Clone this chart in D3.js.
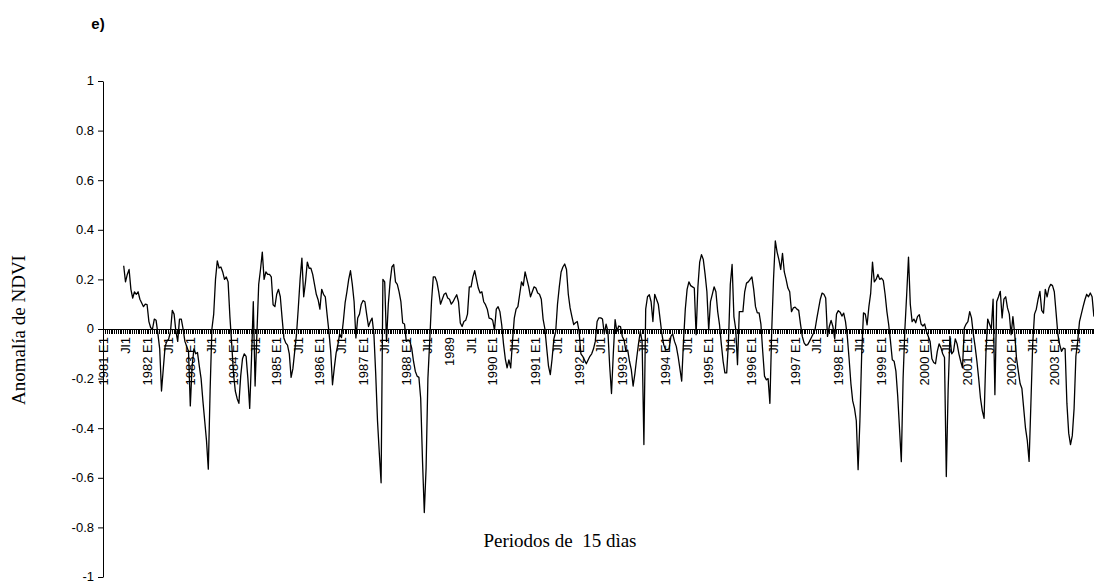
<!DOCTYPE html>
<html>
<head>
<meta charset="utf-8">
<script src="https://cdn.jsdelivr.net/npm/d3@7"></script>
<style>
  html, body { margin: 0; padding: 0; background: #fff; }
  svg { display: block; }
</style>
</head>
<body>
<svg id="chart" width="1094" height="583"></svg>
<script>
// ---------------- DATA ----------------
const years = d3.range(1981, 2004);
const periods = ["E1","E2","F1","F2","M1","M2","A1","A2","My1","My2","Jn1","Jn2",
                 "Jl1","Jl2","Ag1","Ag2","S1","S2","O1","O2","N1","N2","D1","D2"];
// categories: one per 15-day period, 1981 E1 ... 2003 D2
const categories = [];
years.forEach(yr => periods.forEach(p => categories.push(yr + " " + p)));

// NDVI anomaly per 15-day period (null = no data)
const anomalia = [
  // 1981
  null,null,null,null,null,null,null,null,null,null,null,
  0.255,0.19,0.22,0.24,0.16,0.125,0.15,0.14,0.15,0.12,0.105,0.09,0.10,
  // 1982
  0.098,0.03,0.005,0.0,0.04,0.035,-0.02,-0.08,-0.25,-0.16,-0.07,-0.05,
  -0.04,-0.01,0.075,0.06,-0.01,-0.05,0.04,0.04,0.0,-0.05,-0.07,-0.09,
  // 1983
  -0.31,-0.15,-0.08,-0.1,-0.095,-0.15,-0.2,-0.29,-0.37,-0.45,-0.565,-0.25,
  0.0,0.06,0.2,0.275,0.246,0.25,0.23,0.2,0.21,0.19,0.05,-0.06,
  // 1984
  -0.18,-0.25,-0.28,-0.3,-0.19,-0.12,-0.1,-0.11,-0.2,-0.32,-0.12,0.11,
  -0.23,-0.02,0.18,0.24,0.31,0.2,0.23,0.22,0.22,0.21,0.098,0.09,
  // 1985
  0.14,0.16,0.13,0.044,-0.036,-0.056,-0.065,-0.1,-0.195,-0.16,-0.09,-0.02,
  0.085,0.2,0.286,0.13,0.19,0.27,0.245,0.245,0.22,0.18,0.14,0.118,
  // 1986
  0.08,0.16,0.14,0.13,0.058,-0.01,-0.09,-0.225,-0.157,-0.097,-0.063,-0.02,
  -0.035,0.03,0.105,0.15,0.2,0.235,0.18,0.11,-0.036,0.044,0.06,0.1,
  // 1987
  0.115,0.11,0.058,0.01,0.03,0.044,-0.02,-0.18,-0.37,-0.5,-0.62,0.2,
  0.19,-0.05,0.1,0.19,0.25,0.26,0.19,0.18,0.15,0.11,0.024,0.02,
  // 1988
  -0.05,-0.045,-0.05,-0.077,-0.13,-0.17,-0.19,-0.195,-0.28,-0.53,-0.74,-0.56,
  -0.2,-0.05,0.11,0.21,0.21,0.19,0.15,0.1,0.12,0.14,0.145,0.125,
  // 1989
  0.12,0.1,0.11,0.125,0.138,0.11,0.024,0.01,0.03,0.035,0.06,0.17,
  0.17,0.21,0.235,0.2,0.165,0.145,0.15,0.11,0.098,0.08,0.044,0.042,
  // 1990
  0.035,-0.005,0.08,0.09,0.07,0.017,-0.06,-0.12,-0.157,-0.125,-0.157,-0.05,
  0.044,0.08,0.09,0.14,0.19,0.175,0.23,0.2,0.17,0.13,0.15,0.17,
  // 1991
  0.165,0.145,0.14,0.12,0.04,0.0,-0.077,-0.15,-0.184,-0.12,-0.04,-0.01,
  0.1,0.17,0.23,0.25,0.262,0.24,0.14,0.085,0.05,0.018,0.025,0.03,
  // 1992
  -0.01,-0.1,-0.11,-0.125,-0.14,-0.125,-0.11,-0.1,-0.08,-0.05,0.03,0.045,
  0.045,0.04,-0.02,0.02,-0.01,-0.15,-0.26,-0.1,0.038,-0.01,0.012,0.01,
  // 1993
  -0.03,-0.045,-0.09,-0.085,-0.13,-0.164,-0.23,-0.18,-0.117,-0.06,-0.01,-0.05,
  -0.466,0.08,0.13,0.138,0.11,0.03,0.14,0.12,0.1,0.04,-0.02,-0.063,
  // 1994
  -0.083,-0.083,-0.08,-0.03,-0.02,-0.05,-0.07,-0.11,-0.16,-0.21,-0.05,0.08,
  0.16,0.19,0.175,0.17,0.165,-0.023,0.17,0.27,0.3,0.28,0.22,0.15,
  // 1995
  -0.005,0.11,0.14,0.17,0.15,0.07,0.018,-0.06,-0.13,-0.177,-0.177,-0.05,
  0.18,0.26,0.05,0.0,-0.144,0.07,0.07,0.07,0.15,0.185,0.19,0.2,
  // 1996
  0.21,0.16,0.09,0.065,0.065,0.02,-0.09,-0.19,-0.205,-0.2,-0.3,-0.01,
  0.2,0.355,0.31,0.28,0.24,0.305,0.23,0.2,0.165,0.15,0.07,0.085,
  // 1997
  0.088,0.08,0.075,0.02,-0.03,-0.056,-0.066,-0.063,-0.05,-0.035,-0.02,-0.005,
  0.04,0.08,0.12,0.145,0.14,0.125,-0.03,0.01,0.035,0.01,-0.04,0.06,
  // 1998
  0.074,0.068,0.052,0.064,0.03,-0.03,-0.12,-0.22,-0.29,-0.32,-0.37,-0.567,
  -0.37,-0.1,0.065,0.06,0.017,0.09,0.145,0.27,0.19,0.2,0.22,0.2,
  // 1999
  0.205,0.195,0.14,0.07,0.017,-0.05,-0.124,-0.13,-0.17,-0.27,-0.4,-0.535,
  -0.2,0.0,0.14,0.29,0.1,0.03,0.04,0.025,0.05,0.058,0.02,0.012,
  // 2000
  0.02,-0.01,-0.03,-0.05,-0.12,-0.135,-0.14,-0.09,-0.06,-0.075,-0.1,-0.115,
  -0.595,-0.25,-0.03,-0.1,-0.09,-0.04,-0.06,-0.1,-0.13,-0.157,0.004,0.02,
  // 2001
  0.03,0.07,0.045,-0.02,-0.07,-0.13,-0.2,-0.28,-0.33,-0.36,-0.1,0.04,
  0.02,0.0,0.12,-0.265,0.11,0.13,0.152,0.045,0.12,0.13,0.085,0.06,
  // 2002
  -0.023,0.05,-0.02,-0.117,-0.17,-0.22,-0.24,-0.32,-0.4,-0.45,-0.534,-0.3,
  -0.06,0.06,0.08,0.12,0.152,0.075,0.064,0.16,0.13,0.165,0.18,0.175,
  // 2003
  0.15,0.065,-0.023,-0.063,-0.09,-0.077,-0.08,-0.3,-0.42,-0.466,-0.43,-0.32,
  -0.11,-0.05,0.03,0.06,0.09,0.118,0.14,0.13,0.145,0.13,0.05,null
];

// x tick labels shown every 12 periods
const xTickLabels = [
  "1981 E1","Jl1","1982 E1","Jl1","1983 E1","Jl1","1984 E1","Jl1","1985 E1","Jl1",
  "1986 E1","Jl1","1987 E1","Jl1","1988 E1","Jl1","1989","Jl1","1990 E1","Jl1",
  "1991 E1","Jl1","1992 E1","Jl1","1993 E1","Jl1","1994 E1","Jl1","1995 E1","Jl1",
  "1996 E1","Jl1","1997 E1","Jl1","1998 E1","Jl1","1999 E1","Jl1","2000 E1","Jl1",
  "2001 E1","Jl1","2002 E1","Jl1","2003 E1","Jl1"
];
const yTicks = [-1,-0.8,-0.6,-0.4,-0.2,0,0.2,0.4,0.6,0.8,1];
const yTickLabels = ["-1","-0.8","-0.6","-0.4","-0.2","0","0.2","0.4","0.6","0.8","1"];

const panelLabel = "e)";
const yTitle = "Anomalía de NDVI";
const xTitle = "Periodos de  15 dìas";

// ---------------- CHART ----------------
(function () {
const svg = d3.select("#chart");
const plotLeft = 103, plotTop = 81, plotBottom = 577, step = 1.8;
const plotRight = plotLeft + categories.length * step;

const x = d3.scaleBand().domain(categories).range([plotLeft, plotRight]).padding(0);
const y = d3.scaleLinear().domain([-1, 1]).range([plotBottom, plotTop]);

const sans = "'Liberation Sans', Arial, sans-serif";
const serif = "'Liberation Serif', 'Times New Roman', serif";

// Y axis
const yAxis = d3.axisLeft(y).tickValues(yTicks)
  .tickFormat((d, i) => yTickLabels[i]).tickSize(5).tickSizeOuter(0).tickPadding(4);
const gy = svg.append("g").attr("transform", `translate(${plotLeft},0)`).call(yAxis);
gy.selectAll("text").attr("font-family", sans).attr("font-size", 13).attr("fill", "#000")
  .attr("dy", "0.3em");
gy.selectAll("line,path").attr("stroke", "#000");

// X axis: ticks every category, labels every 12
const zeroY = y(0);
const xAxisTicks = d3.axisBottom(x).tickValues(categories).tickFormat("").tickSize(5).tickSizeOuter(0);
const gx = svg.append("g").attr("transform", `translate(0,${zeroY})`).call(xAxisTicks);
gx.selectAll("line").attr("stroke", "#000").attr("stroke-width", 1).attr("shape-rendering", "crispEdges");
gx.select("path").attr("stroke", "#000").attr("stroke-width", 1.2);

const labelCats = categories.filter((c, i) => i % 12 === 0);
const xAxisLabels = d3.axisBottom(x).tickValues(labelCats)
  .tickFormat((d, i) => xTickLabels[i]).tickSize(0).tickSizeOuter(0);
const gxl = svg.append("g").attr("transform", `translate(0,${zeroY})`).call(xAxisLabels);
gxl.select("path").remove();
gxl.selectAll("text")
  .attr("font-family", sans).attr("font-size", 13).attr("fill", "#000")
  .attr("text-anchor", "end")
  .attr("transform", "rotate(-90)")
  .attr("x", -8).attr("y", 0).attr("dy", "0.35em");

// Line
const line = d3.line()
  .defined(d => d.v !== null)
  .x(d => x(d.c) + x.bandwidth() / 2)
  .y(d => y(d.v));
const series = categories.map((c, i) => ({ c, v: anomalia[i] }));
svg.append("path").datum(series)
  .attr("d", line).attr("fill", "none")
  .attr("stroke", "#000").attr("stroke-width", 1.3)
  .attr("stroke-linejoin", "round");

// Titles
svg.append("text").attr("x", 98).attr("y", 29).attr("text-anchor", "middle")
  .attr("font-family", sans).attr("font-weight", "bold").attr("font-size", 15)
  .text(panelLabel);

svg.append("text")
  .attr("transform", "translate(25,330) rotate(-90)")
  .attr("text-anchor", "middle")
  .attr("font-family", serif).attr("font-size", 19)
  .text(yTitle);

svg.append("text")
  .attr("x", 560).attr("y", 547).attr("text-anchor", "middle")
  .attr("font-family", serif).attr("font-size", 19)
  .style("white-space", "pre")
  .text(xTitle);
})();
</script>
</body>
</html>
